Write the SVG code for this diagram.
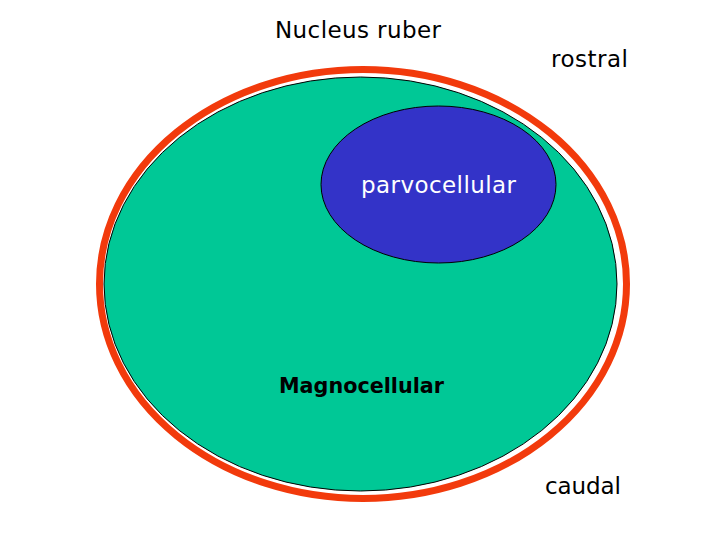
<svg xmlns="http://www.w3.org/2000/svg" width="720" height="540" viewBox="0 0 720 540">
<style>
text{font-family:"DejaVu Sans","Liberation Sans",sans-serif;font-size:23px;fill:#000}
.w{fill:#fff}
.b{font-weight:bold;font-size:22px}
</style>
<rect width="720" height="540" fill="#fff"/>
<g id="outer">
<ellipse cx="363" cy="284" rx="263.5" ry="214.5" fill="#fff" stroke="#f23a0c" stroke-width="7"/>
</g>
<g id="magno">
<ellipse cx="360.5" cy="284" rx="256.5" ry="207" fill="#00c896" stroke="#000" stroke-width="1"/>
<text class="b" x="279" y="393" textLength="165" lengthAdjust="spacingAndGlyphs">Magnocellular</text>
</g>
<g id="parvo">
<ellipse cx="438.5" cy="184.5" rx="117.5" ry="78.5" fill="#3333c8" stroke="#000" stroke-width="1"/>
<text class="w" x="361" y="193" textLength="155">parvocellular</text>
</g>
<g id="labels">
<text x="275" y="38" textLength="166">Nucleus ruber</text>
<text x="551" y="67" textLength="77">rostral</text>
<text x="545" y="494" textLength="76">caudal</text>
</g>
</svg>
